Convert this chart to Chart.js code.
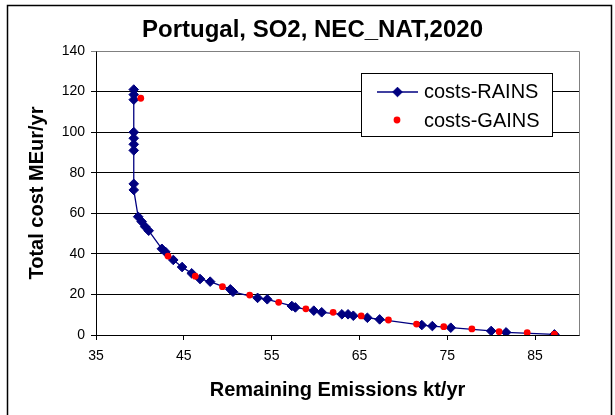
<!DOCTYPE html>
<html>
<head>
<meta charset="utf-8">
<script src="https://cdn.jsdelivr.net/npm/chart.js@4.4.1/dist/chart.umd.min.js"></script>
<style>
  html, body { margin: 0; padding: 0; background: #fff; }
  #wrap { width: 615px; height: 415px; }
</style>
</head>
<body>
<div id="wrap"><canvas id="cost-curve-chart"></canvas></div>
<script>
// values
const rainsEmissions = [39.3, 39.3, 39.3, 39.3, 39.3, 39.3, 39.3, 39.3, 39.3, 39.8, 40.2, 40.6, 41.0,
    42.5, 42.9, 43.8, 44.8, 45.9, 46.85, 48.0, 50.3, 50.6, 53.4, 54.5, 57.3, 57.7, 59.8, 60.7,
    63.0, 63.7, 64.3, 65.9, 67.3, 72.1, 73.3, 75.4, 80.0, 81.7, 87.2];
const rainsCosts = [121, 118.5, 116, 100, 97, 94, 91, 74.5, 71.5, 58.3, 55.9, 53.4, 51.4,
    42.5, 41, 37, 33.5, 30.4, 27.6, 26.3, 22.5, 21.3, 18.3, 17.6, 14.3, 13.6, 12.0, 11.2,
    10.2, 10.2, 9.5, 8.5, 7.7, 4.9, 4.4, 3.6, 2.0, 1.3, 0.3];
const gainsEmissions = [40.1, 43.2, 46.3, 49.4, 52.5, 55.8, 58.9, 62.0, 65.2, 68.3, 71.5, 74.6, 77.8, 80.9, 84.1, 87.2];
const gainsCosts = [116.7, 38.9, 29.0, 23.8, 19.7, 16.1, 12.9, 11.2, 9.4, 7.4, 5.4, 4.1, 3.0, 1.6, 1.1, 0.4];

const xTicks = [35, 45, 55, 65, 75, 85];
const xMin = 35, xMax = 90;
const yMin = 0, yMax = 140, yStep = 20;

const chartTitle = 'Portugal, SO2, NEC_NAT,2020';
const fontFamily = '"Liberation Sans", Arial, sans-serif';

const toPoints = (xs, ys) => xs.map((x, i) => ({ x: x, y: ys[i] }));

// white page, black frame of the original picture, and the title
const frameAndPlotPlugin = {
    id: 'frameAndPlot',
    beforeDraw(chart) {
        const ctx = chart.ctx;
        ctx.save();
        ctx.fillStyle = '#fff';
        ctx.fillRect(0, 0, chart.width, chart.height);
        ctx.strokeStyle = '#000';
        ctx.lineWidth = 1.5;
        ctx.beginPath();
        ctx.moveTo(7.5, chart.height + 2);
        ctx.lineTo(7.5, 5.5);
        ctx.lineTo(611.5, 5.5);
        ctx.lineTo(611.5, chart.height + 2);
        ctx.stroke();

        ctx.fillStyle = '#000';
        ctx.font = 'bold 24px ' + fontFamily;
        ctx.textAlign = 'center';
        ctx.textBaseline = 'alphabetic';
        ctx.fillText(chartTitle, 312.5, 37);
        ctx.restore();
    },
    beforeDatasetsDraw(chart) {
        const a = chart.chartArea;
        const ctx = chart.ctx;
        ctx.save();
        ctx.strokeStyle = '#808080';
        ctx.lineWidth = 1;
        ctx.beginPath();
        ctx.moveTo(Math.round(a.left) + 0.5, Math.round(a.top) + 0.5);
        ctx.lineTo(Math.round(a.right) + 0.5, Math.round(a.top) + 0.5);
        ctx.lineTo(Math.round(a.right) + 0.5, Math.round(a.bottom) + 0.5);
        ctx.stroke();
        ctx.restore();
    }
};

// legend box inside the plot, like the spreadsheet one
const boxLegendPlugin = {
    id: 'boxLegend',
    afterDraw(chart) {
        const ctx = chart.ctx;
        const ds = chart.data.datasets;
        const rains = ds.find(d => d.label === 'costs-RAINS');
        const gains = ds.find(d => d.label === 'costs-GAINS');
        ctx.save();
        ctx.fillStyle = '#fff';
        ctx.fillRect(361.5, 73.5, 191, 63);
        ctx.strokeStyle = '#000';
        ctx.lineWidth = 1;
        ctx.strokeRect(361.5, 73.5, 191, 63);

        ctx.strokeStyle = rains.borderColor;
        ctx.lineWidth = rains.borderWidth;
        ctx.beginPath();
        ctx.moveTo(377, 92);
        ctx.lineTo(418, 92);
        ctx.stroke();
        ctx.fillStyle = rains.pointBackgroundColor;
        ctx.strokeStyle = rains.pointBorderColor;
        ctx.lineWidth = 1;
        Chart.helpers.drawPoint(ctx, {
            pointStyle: rains.pointStyle, radius: rains.pointRadius, borderWidth: 1, rotation: 0
        }, 397.5, 92);

        ctx.fillStyle = gains.pointBackgroundColor;
        ctx.beginPath();
        ctx.arc(397, 120, gains.pointRadius, 0, Math.PI * 2);
        ctx.fill();

        ctx.fillStyle = '#000';
        ctx.font = '20px ' + fontFamily;
        ctx.textAlign = 'left';
        ctx.textBaseline = 'middle';
        ctx.fillText(rains.label, 424, 92);
        ctx.fillText(gains.label, 424, 121);
        ctx.restore();
    }
};

const ctx = document.getElementById('cost-curve-chart').getContext('2d');
const chart = new Chart(ctx, {
    type: 'scatter',
    data: {
        datasets: [{
            label: 'costs-GAINS',
            data: toPoints(gainsEmissions, gainsCosts),
            showLine: false,
            pointStyle: 'circle',
            pointRadius: 3.4,
            pointBackgroundColor: '#ff0000',
            pointBorderColor: '#ff0000',
            pointBorderWidth: 0,
            order: 0
        }, {
            label: 'costs-RAINS',
            data: toPoints(rainsEmissions, rainsCosts),
            showLine: true,
            borderColor: '#000080',
            borderWidth: 1.3,
            pointStyle: 'rectRot',
            pointRadius: 4.8,
            pointBackgroundColor: '#000080',
            pointBorderColor: '#000080',
            pointBorderWidth: 1,
            order: 1
        }]
    },
    options: {
        responsive: true,
        maintainAspectRatio: false,
        animation: false,
        devicePixelRatio: 1,
        layout: {
            padding: { left: 12, right: 36, top: 51, bottom: 5 }
        },
        plugins: {
            title: { display: false },
            legend: { display: false },
            tooltip: { enabled: false }
        },
        scales: {
            x: {
                type: 'linear',
                min: xMin,
                max: xMax,
                afterFit(scale) { scale.height = 75; },
                afterBuildTicks(scale) { scale.ticks = xTicks.map(v => ({ value: v })); },
                border: { color: '#000', width: 1 },
                grid: {
                    drawOnChartArea: false,
                    drawTicks: true,
                    tickLength: 5,
                    color: '#000'
                },
                ticks: {
                    color: '#000',
                    padding: 8,
                    maxRotation: 0,
                    autoSkip: false,
                    font: { family: fontFamily, size: 14 }
                },
                title: {
                    display: true,
                    text: 'Remaining Emissions kt/yr',
                    color: '#000',
                    font: { family: fontFamily, size: 20, weight: 'bold' },
                    padding: { top: 0, bottom: 8 }
                }
            },
            y: {
                type: 'linear',
                min: yMin,
                max: yMax,
                afterFit(scale) { scale.width = 84; },
                border: { color: '#000', width: 1 },
                grid: {
                    color: c => (c.tick && c.tick.value === yMax ? '#808080' : '#000'),
                    lineWidth: 1,
                    drawTicks: true,
                    tickLength: 5
                },
                ticks: {
                    stepSize: yStep,
                    color: '#000',
                    padding: 6,
                    font: { family: fontFamily, size: 14 }
                },
                title: {
                    display: true,
                    text: 'Total cost MEur/yr',
                    color: '#000',
                    font: { family: fontFamily, size: 20, weight: 'bold' },
                    padding: { top: 13, bottom: 0 }
                }
            }
        }
    },
    plugins: [frameAndPlotPlugin, boxLegendPlugin]
});
</script>
</body>
</html>
